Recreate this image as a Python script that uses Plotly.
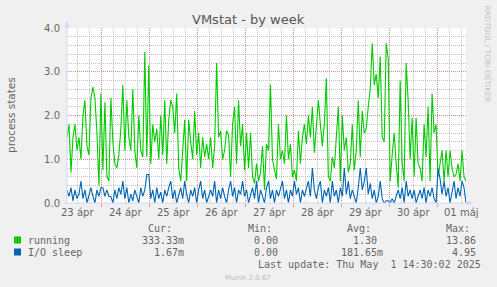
import pandas as pd
import plotly.graph_objects as go

# ---------------- data ----------------
start = "2025-04-23 06:30"
end = "2025-05-01 14:30"
times = pd.date_range(start, end, freq="1h")

running = [
    1.5, 1.8, 0.7, 1.5, 1.8, 1.2, 1.5, 1.0, 2.0, 2.35,
    1.3, 1.1, 2.4, 2.65, 2.4, 1.6, 0.4, 2.5, 0.75, 2.3,
    0.6, 0.5, 2.4, 1.4, 0.9, 0.8, 1.1, 1.7, 2.7, 1.2,
    2.35, 1.5, 1.2, 2.6, 1.2, 0.8, 2.0, 1.2, 1.05, 3.45,
    1.05, 3.15, 0.9, 1.8, 1.4, 1.7, 1.0, 2.0, 1.1, 2.35,
    0.9, 1.9, 2.35, 2.2, 1.6, 2.5, 0.8, 0.5, 1.2, 1.9,
    0.5, 1.9, 1.4, 1.0, 2.1, 1.1, 1.6, 0.8, 1.5, 1.05,
    1.35, 1.0, 1.5, 0.8, 1.3, 3.2, 1.5, 1.65, 1.0, 1.2,
    1.65, 1.55, 0.6, 1.8, 2.2, 0.9, 2.35, 1.3, 1.8, 0.75,
    1.6, 0.8, 1.6, 0.6, 0.45, 0.9, 0.5, 0.7, 1.3, 0.3,
    1.35, 1.2, 2.7, 1.0, 0.75, 0.55, 1.8, 1.0, 1.2, 0.9,
    2.0, 1.0, 1.35, 0.6, 0.75, 0.5, 1.65, 0.9, 1.5, 1.8,
    1.35, 2.0, 1.5, 2.2, 1.15, 1.8, 2.35, 1.8, 1.3, 1.8,
    2.85, 0.6, 0.5, 1.05, 0.8, 1.5, 2.2, 0.5, 2.0, 1.2,
    1.5, 0.7, 0.9, 1.8, 0.75, 1.2, 2.35, 1.05, 2.1, 1.6,
    1.7, 2.2, 2.6, 3.65, 2.7, 2.95, 2.4, 3.35, 1.5, 1.4,
    3.65, 3.3, 0.5, 1.1, 1.6, 0.9, 0.35, 2.8, 0.9, 0.5,
    3.2, 2.35, 1.0, 1.95, 0.6, 1.95, 0.9, 0.8, 0.5, 1.8,
    1.05, 2.2, 0.5, 2.5, 1.6, 1.8, 0.6, 0.9, 1.2, 0.5,
    1.2, 0.6, 1.2, 0.8, 0.6, 0.65, 0.9, 0.5, 1.2, 0.6, 0.5,
]

io_sleep = [
    0.3, 0.15, 0.35, 0.05, 0.3, 0.1, 0.2, 0.5, 0.1, 0.3, 0.0,
    0.2, 0.35, 0.15, 0.0, 0.3, 0.15, 0.35, 0.35, 0.15, 0.3,
    0.15, 0.15, 0.0, 0.3, 0.1, 0.35, 0.2, 0.5, 0.1, 0.35,
    0.0, 0.2, 0.05, 0.3, 0.15, 0.0, 0.35, 0.15, 0.3, 0.65,
    0.65, 0.1, 0.3, 0.0, 0.35, 0.1, 0.25, 0.0, 0.3, 0.15,
    0.35, 0.5, 0.1, 0.3, 0.0, 0.2, 0.35, 0.1, 0.5, 0.2,
    0.0, 0.3, 0.15, 0.35, 0.0, 0.3, 0.5, 0.1, 0.3, 0.0,
    0.15, 0.3, 0.15, 0.5, 0.0, 0.3, 0.1, 0.35, 0.15, 0.0,
    0.3, 0.5, 0.15, 0.35, 0.0, 0.3, 0.2, 0.5, 0.15, 0.3,
    0.0, 0.15, 0.35, 0.1, 0.5, 0.0, 0.3, 0.15, 0.0, 0.35,
    0.5, 0.1, 0.3, 0.0, 0.3, 0.15, 0.35, 0.5, 0.1, 0.3,
    0.0, 0.3, 0.15, 0.5, 0.2, 0.35, 0.0, 0.3, 0.15, 0.35,
    0.5, 0.15, 0.8, 0.3, 0.1, 0.35, 0.5, 0.0, 0.3, 0.15,
    0.35, 0.0, 0.5, 0.15, 0.3, 0.0, 0.35, 0.15, 0.8, 0.2,
    0.5, 0.1, 0.3, 0.15, 0.0, 0.35, 0.8, 0.3, 0.5, 0.8,
    0.2, 0.45, 0.1, 0.3, 0.0, 0.15, 0.5, 0.1, 0.0, 0.05,
    0.05, 0.0, 0.1, 0.0, 0.15, 0.3, 0.1, 0.35, 0.0, 0.5,
    0.15, 0.3, 0.1, 0.3, 0.0, 0.15, 0.3, 0.1, 0.35, 0.0,
    0.3, 0.15, 0.35, 0.1, 0.0, 0.8, 0.55, 0.2, 0.5, 0.15,
    0.35, 0.0, 0.3, 0.5, 0.1, 0.35, 0.15, 0.5, 0.35, 0.0,
]

day_noons = pd.date_range("2025-04-23 12:00", "2025-05-01 12:00", freq="1D")
day_labels = ["23 ápr", "24 ápr", "25 ápr", "26 ápr", "27 ápr",
              "28 ápr", "29 ápr", "30 ápr", "01 máj"]
midnights = pd.date_range("2025-04-24 00:00", "2025-05-01 00:00", freq="1D")
y_ticks = [0, 1, 2, 3, 4]

series_names = ["running", "I/O sleep"]
series_colors = ["#00CC00", "#0066B3"]
cur_vals = ["333.33m", "1.67m"]
min_vals = ["0.00\u00a0", "0.00\u00a0"]
avg_vals = ["1.30\u00a0", "181.65m"]
max_vals = ["13.86\u00a0", "4.95\u00a0"]

title = "VMstat - by week"
y_title = "process states"
last_update = "Last update: Thu May\u00a0\u00a01 14:30:02 2025"
watermark = "RRDTOOL / TOBI OETIKER"
version = "Munin 2.0.67"

# ---------------- layout helpers ----------------
W, H = 497, 287
L, R, T, B = 67, 466, 28, 203


def px(x):
    return (x - L) / (R - L)


def py(y):
    return (B - y) / (B - T)


FONT = "#666666"
GRID = "rgba(150,150,150,0.55)"
MGRID = "rgba(220,110,110,0.65)"
AXIS = "#CFD6F8"

fig = go.Figure()
for name, vals, col in zip(series_names, [running, io_sleep], series_colors):
    fig.add_trace(go.Scatter(x=times, y=vals, mode="lines", name=name,
                             line=dict(color=col, width=1.1),
                             hoverinfo="skip", showlegend=False))

ann = []
# title
ann.append(dict(x=px(248), y=py(19.5), text=title,
                font=dict(family="DejaVu Sans", size=13, color="#555555")))
# y title
ann.append(dict(x=px(11), y=py(115), text=y_title, textangle=-90,
                font=dict(family="DejaVu Sans", size=10.5, color=FONT)))
# x labels (centred at noon)
for d, lab in zip(day_noons, day_labels):
    ann.append(dict(x=d, xref="x", y=py(212), text=lab,
                    font=dict(family="DejaVu Sans", size=10, color=FONT)))
# watermark
ann.append(dict(x=px(487.5), y=py(54), text=watermark, textangle=90,
                font=dict(family="DejaVu Sans", size=7.5, color="#c4c4c4")))
ann.append(dict(x=px(247.5), y=py(277.5), text=version,
                font=dict(family="DejaVu Sans", size=7, color="#bbbbbb")))

mono = dict(family="DejaVu Sans Mono", size=10, color=FONT)
col_edges = [185, 285, 384, 483]
headers = ["Cur:", "Min:", "Avg:", "Max:"]
for edge, h in zip(col_edges, headers):
    ann.append(dict(x=px(edge - 12), y=py(228), text=h, xanchor="right", font=mono))
row_y = [240, 252]
for i, name in enumerate(series_names):
    ann.append(dict(x=px(27), y=py(row_y[i]), text=name, xanchor="left", font=mono))
    for edge, vals in zip(col_edges, [cur_vals, min_vals, avg_vals, max_vals]):
        ann.append(dict(x=px(edge), y=py(row_y[i]), text=vals[i], xanchor="right", font=mono))
ann.append(dict(x=px(482), y=py(264), text=last_update, xanchor="right", font=mono))
for a in ann:
    a.setdefault("xref", "paper")
    a.setdefault("yref", "paper")
    a.setdefault("xanchor", "center")
    a.setdefault("yanchor", "middle")
    a["showarrow"] = False
    a["borderpad"] = 0

shapes = []
# legend squares
for i, col in enumerate(series_colors):
    shapes.append(dict(type="rect", xref="paper", yref="paper",
                       x0=px(14), x1=px(21), y0=py(row_y[i] - 3.5), y1=py(row_y[i] + 3.5),
                       fillcolor=col, line=dict(width=0)))
# axes with arrows
shapes.append(dict(type="line", xref="paper", yref="paper", x0=px(67), x1=px(67),
                   y0=py(204), y1=py(23), line=dict(color=AXIS, width=1)))
shapes.append(dict(type="line", xref="paper", yref="paper", x0=px(64), x1=px(470),
                   y0=py(203), y1=py(203), line=dict(color=AXIS, width=1)))
shapes.append(dict(type="path", xref="paper", yref="paper",
                   path=f"M {px(64.5)},{py(27.5)} L {px(69.5)},{py(27.5)} L {px(67)},{py(21)} Z",
                   fillcolor=AXIS, line=dict(width=0)))
shapes.append(dict(type="path", xref="paper", yref="paper",
                   path=f"M {px(466.5)},{py(200.5)} L {px(466.5)},{py(205.5)} L {px(473)},{py(203)} Z",
                   fillcolor=AXIS, line=dict(width=0)))

fig.update_layout(
    width=W, height=H, autosize=False,
    margin=dict(l=L, r=W - R, t=T, b=H - B, pad=0),
    paper_bgcolor="#F0F0F0", plot_bgcolor="#FFFFFF",
    showlegend=False,
    annotations=ann, shapes=shapes,
    xaxis=dict(type="date", range=[start, end], tickvals=midnights,
               showticklabels=False, showgrid=True, gridcolor=MGRID, gridwidth=1,
               griddash="1px,1px", ticks="outside", ticklen=3, tickcolor=MGRID,
               minor=dict(dtick=6 * 3600 * 1000, tick0="2025-04-23 00:00", showgrid=True,
                          gridcolor=GRID, griddash="1px,1px", gridwidth=1),
               showline=False, zeroline=False, fixedrange=True),
    yaxis=dict(range=[0, 4], tickvals=y_ticks, ticktext=[f"{v:.1f}" for v in y_ticks],
               showgrid=True, gridcolor=MGRID, gridwidth=1, griddash="1px,1px",
               minor=dict(dtick=0.2, showgrid=True, gridcolor=GRID, griddash="1px,1px",
                          gridwidth=1),
               ticks="", ticklabelstandoff=6,
               tickfont=dict(family="DejaVu Sans", size=10, color=FONT),
               showline=False, zeroline=False, fixedrange=True),
)

fig.write_html("out.html", config={"displayModeBar": False})
